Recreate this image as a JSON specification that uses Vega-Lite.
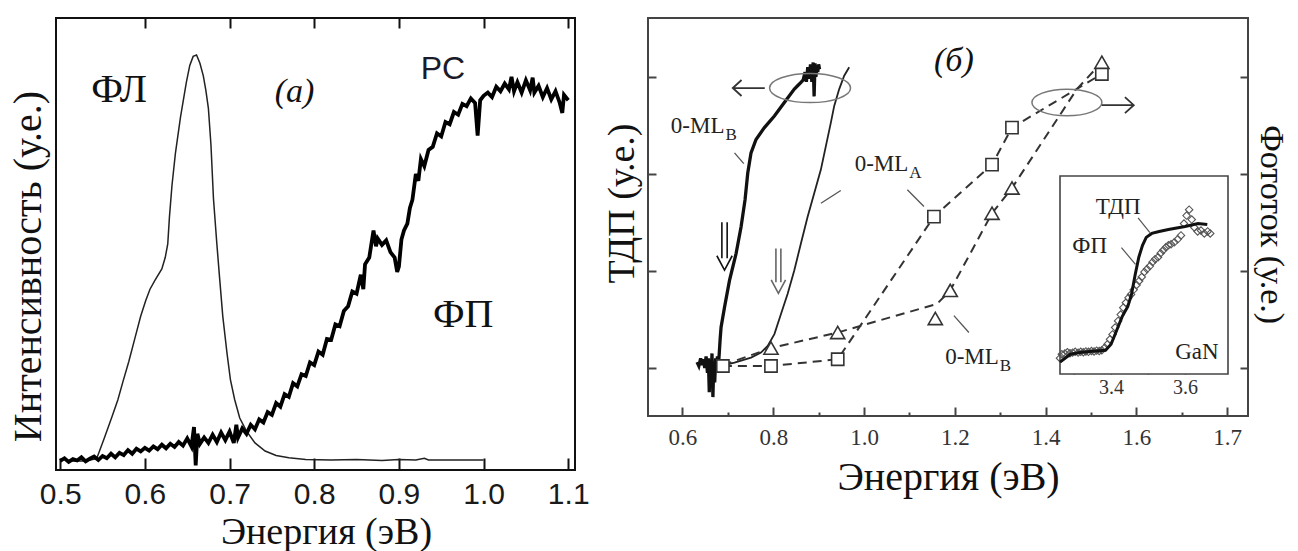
{
  "$schema": "https://vega.github.io/schema/vega-lite/v6.json",
  "background": "white",
  "padding": {"left": 7, "top": 16, "right": 0, "bottom": 0},
  "spacing": 11,
  "config": {
    "view": {"stroke": null},
    "axis": {"grid": false, "domain": false, "titleFont": "Liberation Serif", "titleFontWeight": "normal", "titleColor": "#111", "labelColor": "#222", "tickColor": "#222", "labelOverlap": false, "labelFlush": false}
  },
  "datasets": {
    "fl": [
      {"e": 0.51, "v": 0.02}, {"e": 0.53, "v": 0.02}, {"e": 0.543, "v": 0.025}, {"e": 0.552, "v": 0.07}, {"e": 0.561, "v": 0.117}, {"e": 0.568, "v": 0.155}, {"e": 0.574, "v": 0.195}, {"e": 0.581, "v": 0.24}, {"e": 0.588, "v": 0.29}, {"e": 0.595, "v": 0.34}, {"e": 0.601, "v": 0.375}, {"e": 0.606, "v": 0.4}, {"e": 0.612, "v": 0.42}, {"e": 0.62, "v": 0.445}, {"e": 0.624, "v": 0.47}, {"e": 0.627, "v": 0.5}, {"e": 0.629, "v": 0.56}, {"e": 0.632, "v": 0.63}, {"e": 0.636, "v": 0.7}, {"e": 0.642, "v": 0.78}, {"e": 0.649, "v": 0.858}, {"e": 0.653, "v": 0.895}, {"e": 0.657, "v": 0.915}, {"e": 0.661, "v": 0.918}, {"e": 0.665, "v": 0.9}, {"e": 0.669, "v": 0.872}, {"e": 0.672, "v": 0.84}, {"e": 0.675, "v": 0.8}, {"e": 0.678, "v": 0.72}, {"e": 0.681, "v": 0.6}, {"e": 0.685, "v": 0.5}, {"e": 0.688, "v": 0.43}, {"e": 0.692, "v": 0.34}, {"e": 0.697, "v": 0.258}, {"e": 0.701, "v": 0.2}, {"e": 0.706, "v": 0.156}, {"e": 0.712, "v": 0.115}, {"e": 0.72, "v": 0.086}, {"e": 0.73, "v": 0.06}, {"e": 0.742, "v": 0.042}, {"e": 0.755, "v": 0.032}, {"e": 0.77, "v": 0.027}, {"e": 0.79, "v": 0.023}, {"e": 0.82, "v": 0.022}, {"e": 0.85, "v": 0.023}, {"e": 0.88, "v": 0.021}, {"e": 0.9, "v": 0.023}, {"e": 0.92, "v": 0.022}, {"e": 0.93, "v": 0.026}, {"e": 0.935, "v": 0.022}, {"e": 0.96, "v": 0.022}, {"e": 1.0, "v": 0.022}
    ],
    "fp": [
      {"e": 0.5, "v": 0.02}, {"e": 0.505, "v": 0.026}, {"e": 0.51, "v": 0.018}, {"e": 0.515, "v": 0.024}, {"e": 0.52, "v": 0.021}, {"e": 0.525, "v": 0.028}, {"e": 0.53, "v": 0.019}, {"e": 0.535, "v": 0.025}, {"e": 0.54, "v": 0.03}, {"e": 0.545, "v": 0.022}, {"e": 0.55, "v": 0.031}, {"e": 0.555, "v": 0.026}, {"e": 0.56, "v": 0.036}, {"e": 0.565, "v": 0.028}, {"e": 0.57, "v": 0.038}, {"e": 0.575, "v": 0.033}, {"e": 0.58, "v": 0.044}, {"e": 0.585, "v": 0.036}, {"e": 0.59, "v": 0.047}, {"e": 0.595, "v": 0.041}, {"e": 0.6, "v": 0.049}, {"e": 0.605, "v": 0.043}, {"e": 0.61, "v": 0.052}, {"e": 0.615, "v": 0.046}, {"e": 0.62, "v": 0.056}, {"e": 0.625, "v": 0.048}, {"e": 0.63, "v": 0.058}, {"e": 0.635, "v": 0.051}, {"e": 0.64, "v": 0.062}, {"e": 0.645, "v": 0.054}, {"e": 0.65, "v": 0.07}, {"e": 0.655, "v": 0.052}, {"e": 0.658, "v": 0.095}, {"e": 0.66, "v": 0.01}, {"e": 0.662, "v": 0.08}, {"e": 0.665, "v": 0.058}, {"e": 0.67, "v": 0.072}, {"e": 0.675, "v": 0.06}, {"e": 0.68, "v": 0.078}, {"e": 0.685, "v": 0.062}, {"e": 0.69, "v": 0.083}, {"e": 0.695, "v": 0.066}, {"e": 0.7, "v": 0.085}, {"e": 0.705, "v": 0.06}, {"e": 0.708, "v": 0.1}, {"e": 0.71, "v": 0.072}, {"e": 0.715, "v": 0.092}, {"e": 0.72, "v": 0.08}, {"e": 0.725, "v": 0.1}, {"e": 0.73, "v": 0.09}, {"e": 0.735, "v": 0.112}, {"e": 0.74, "v": 0.105}, {"e": 0.745, "v": 0.128}, {"e": 0.75, "v": 0.122}, {"e": 0.755, "v": 0.148}, {"e": 0.76, "v": 0.14}, {"e": 0.765, "v": 0.168}, {"e": 0.77, "v": 0.162}, {"e": 0.775, "v": 0.192}, {"e": 0.78, "v": 0.185}, {"e": 0.785, "v": 0.212}, {"e": 0.79, "v": 0.208}, {"e": 0.795, "v": 0.238}, {"e": 0.8, "v": 0.232}, {"e": 0.805, "v": 0.262}, {"e": 0.81, "v": 0.255}, {"e": 0.815, "v": 0.29}, {"e": 0.82, "v": 0.288}, {"e": 0.825, "v": 0.322}, {"e": 0.83, "v": 0.318}, {"e": 0.835, "v": 0.352}, {"e": 0.84, "v": 0.362}, {"e": 0.845, "v": 0.395}, {"e": 0.85, "v": 0.39}, {"e": 0.855, "v": 0.432}, {"e": 0.858, "v": 0.4}, {"e": 0.86, "v": 0.455}, {"e": 0.865, "v": 0.47}, {"e": 0.87, "v": 0.53}, {"e": 0.873, "v": 0.495}, {"e": 0.875, "v": 0.512}, {"e": 0.88, "v": 0.498}, {"e": 0.885, "v": 0.508}, {"e": 0.89, "v": 0.482}, {"e": 0.895, "v": 0.47}, {"e": 0.898, "v": 0.438}, {"e": 0.9, "v": 0.45}, {"e": 0.903, "v": 0.51}, {"e": 0.906, "v": 0.53}, {"e": 0.91, "v": 0.545}, {"e": 0.913, "v": 0.58}, {"e": 0.916, "v": 0.598}, {"e": 0.92, "v": 0.655}, {"e": 0.923, "v": 0.64}, {"e": 0.926, "v": 0.688}, {"e": 0.93, "v": 0.672}, {"e": 0.935, "v": 0.708}, {"e": 0.94, "v": 0.715}, {"e": 0.945, "v": 0.745}, {"e": 0.95, "v": 0.738}, {"e": 0.955, "v": 0.77}, {"e": 0.96, "v": 0.765}, {"e": 0.965, "v": 0.792}, {"e": 0.97, "v": 0.786}, {"e": 0.975, "v": 0.81}, {"e": 0.98, "v": 0.805}, {"e": 0.985, "v": 0.822}, {"e": 0.99, "v": 0.812}, {"e": 0.993, "v": 0.74}, {"e": 0.996, "v": 0.818}, {"e": 1.0, "v": 0.828}, {"e": 1.005, "v": 0.835}, {"e": 1.01, "v": 0.825}, {"e": 1.015, "v": 0.848}, {"e": 1.02, "v": 0.838}, {"e": 1.025, "v": 0.855}, {"e": 1.03, "v": 0.842}, {"e": 1.033, "v": 0.87}, {"e": 1.036, "v": 0.838}, {"e": 1.04, "v": 0.858}, {"e": 1.045, "v": 0.835}, {"e": 1.05, "v": 0.862}, {"e": 1.055, "v": 0.84}, {"e": 1.058, "v": 0.868}, {"e": 1.06, "v": 0.835}, {"e": 1.065, "v": 0.85}, {"e": 1.07, "v": 0.825}, {"e": 1.075, "v": 0.845}, {"e": 1.08, "v": 0.82}, {"e": 1.085, "v": 0.838}, {"e": 1.09, "v": 0.812}, {"e": 1.093, "v": 0.79}, {"e": 1.095, "v": 0.83}, {"e": 1.1, "v": 0.818}
    ],
    "mlb": [
      {"e": 0.632, "v": 0.06}, {"e": 0.636, "v": 0.02}, {"e": 0.64, "v": 0.1}, {"e": 0.643, "v": 0.03}, {"e": 0.646, "v": 0.09}, {"e": 0.649, "v": 0.0}, {"e": 0.652, "v": 0.12}, {"e": 0.655, "v": -0.05}, {"e": 0.657, "v": 0.1}, {"e": 0.659, "v": -0.25}, {"e": 0.661, "v": 0.08}, {"e": 0.663, "v": -0.1}, {"e": 0.665, "v": 0.15}, {"e": 0.667, "v": -0.3}, {"e": 0.669, "v": 0.06}, {"e": 0.671, "v": -0.15}, {"e": 0.673, "v": 0.1}, {"e": 0.675, "v": -0.05}, {"e": 0.677, "v": 0.12}, {"e": 0.679, "v": 0.02}, {"e": 0.681, "v": 0.15}, {"e": 0.683, "v": 0.3}, {"e": 0.685, "v": 0.42}, {"e": 0.6926, "v": 0.626}, {"e": 0.7036, "v": 0.903}, {"e": 0.7181, "v": 1.18}, {"e": 0.7291, "v": 1.456}, {"e": 0.7378, "v": 1.733}, {"e": 0.7438, "v": 2.01}, {"e": 0.751, "v": 2.218}, {"e": 0.762, "v": 2.356}, {"e": 0.7805, "v": 2.478}, {"e": 0.8025, "v": 2.598}, {"e": 0.8244, "v": 2.737}, {"e": 0.8464, "v": 2.875}, {"e": 0.858, "v": 2.93}, {"e": 0.866, "v": 2.97}, {"e": 0.87, "v": 3.05}, {"e": 0.873, "v": 2.95}, {"e": 0.876, "v": 3.1}, {"e": 0.879, "v": 2.98}, {"e": 0.882, "v": 3.13}, {"e": 0.885, "v": 2.95}, {"e": 0.888, "v": 3.15}, {"e": 0.89, "v": 2.8}, {"e": 0.892, "v": 3.14}, {"e": 0.894, "v": 3.0}, {"e": 0.896, "v": 3.12}, {"e": 0.898, "v": 3.05}, {"e": 0.9, "v": 3.13}, {"e": 0.902, "v": 3.08}
    ],
    "mla": [
      {"e": 0.685, "v": 0.021}, {"e": 0.7145, "v": 0.055}, {"e": 0.751, "v": 0.107}, {"e": 0.773, "v": 0.159}, {"e": 0.7877, "v": 0.228}, {"e": 0.8025, "v": 0.349}, {"e": 0.817, "v": 0.557}, {"e": 0.8317, "v": 0.765}, {"e": 0.8464, "v": 1.007}, {"e": 0.8609, "v": 1.284}, {"e": 0.8757, "v": 1.56}, {"e": 0.8904, "v": 1.803}, {"e": 0.9049, "v": 2.045}, {"e": 0.9159, "v": 2.287}, {"e": 0.9269, "v": 2.53}, {"e": 0.9343, "v": 2.702}, {"e": 0.9453, "v": 2.875}, {"e": 0.9563, "v": 3.013}, {"e": 0.9673, "v": 3.1}
    ],
    "sq": [
      {"e": 0.689, "v": 0.02}, {"e": 0.795, "v": 0.02}, {"e": 0.942, "v": 0.09}, {"e": 1.154, "v": 1.56}, {"e": 1.282, "v": 2.097}, {"e": 1.326, "v": 2.478}, {"e": 1.524, "v": 3.031}
    ],
    "tr": [
      {"e": 0.795, "v": 0.205}, {"e": 0.942, "v": 0.366}, {"e": 1.157, "v": 0.51}, {"e": 1.19, "v": 0.8}, {"e": 1.282, "v": 1.595}, {"e": 1.326, "v": 1.855}, {"e": 1.524, "v": 3.152}
    ],
    "trline": [
      {"e": 0.689, "v": 0.03}, {"e": 0.795, "v": 0.205}, {"e": 0.942, "v": 0.366}, {"e": 1.161, "v": 0.661}, {"e": 1.19, "v": 0.8}, {"e": 1.282, "v": 1.595}, {"e": 1.326, "v": 1.855}, {"e": 1.469, "v": 2.875}, {"e": 1.524, "v": 3.152}
    ],
    "tdp": [
      {"e": 3.262, "v": 0.06}, {"e": 3.29, "v": 0.1}, {"e": 3.32, "v": 0.11}, {"e": 3.35, "v": 0.115}, {"e": 3.385, "v": 0.12}, {"e": 3.4, "v": 0.15}, {"e": 3.415, "v": 0.22}, {"e": 3.43, "v": 0.29}, {"e": 3.445, "v": 0.34}, {"e": 3.455, "v": 0.4}, {"e": 3.465, "v": 0.5}, {"e": 3.475, "v": 0.59}, {"e": 3.485, "v": 0.65}, {"e": 3.495, "v": 0.69}, {"e": 3.51, "v": 0.71}, {"e": 3.53, "v": 0.72}, {"e": 3.555, "v": 0.73}, {"e": 3.6, "v": 0.745}, {"e": 3.635, "v": 0.76}, {"e": 3.66, "v": 0.755}
    ],
    "fpi": [
      {"e": 3.262, "v": 0.08}, {"e": 3.267, "v": 0.1}, {"e": 3.275, "v": 0.103}, {"e": 3.282, "v": 0.11}, {"e": 3.289, "v": 0.105}, {"e": 3.296, "v": 0.108}, {"e": 3.303, "v": 0.112}, {"e": 3.311, "v": 0.108}, {"e": 3.318, "v": 0.112}, {"e": 3.325, "v": 0.11}, {"e": 3.332, "v": 0.114}, {"e": 3.339, "v": 0.112}, {"e": 3.347, "v": 0.116}, {"e": 3.354, "v": 0.114}, {"e": 3.361, "v": 0.118}, {"e": 3.368, "v": 0.116}, {"e": 3.375, "v": 0.12}, {"e": 3.383, "v": 0.133}, {"e": 3.39, "v": 0.15}, {"e": 3.397, "v": 0.175}, {"e": 3.404, "v": 0.2}, {"e": 3.411, "v": 0.235}, {"e": 3.419, "v": 0.268}, {"e": 3.426, "v": 0.3}, {"e": 3.433, "v": 0.335}, {"e": 3.44, "v": 0.36}, {"e": 3.447, "v": 0.385}, {"e": 3.454, "v": 0.402}, {"e": 3.461, "v": 0.425}, {"e": 3.469, "v": 0.45}, {"e": 3.476, "v": 0.47}, {"e": 3.483, "v": 0.49}, {"e": 3.49, "v": 0.515}, {"e": 3.497, "v": 0.53}, {"e": 3.505, "v": 0.545}, {"e": 3.512, "v": 0.565}, {"e": 3.519, "v": 0.58}, {"e": 3.527, "v": 0.59}, {"e": 3.534, "v": 0.61}, {"e": 3.541, "v": 0.625}, {"e": 3.548, "v": 0.64}, {"e": 3.555, "v": 0.65}, {"e": 3.562, "v": 0.655}, {"e": 3.571, "v": 0.665}, {"e": 3.58, "v": 0.68}, {"e": 3.589, "v": 0.7}, {"e": 3.597, "v": 0.76}, {"e": 3.604, "v": 0.8}, {"e": 3.611, "v": 0.83}, {"e": 3.618, "v": 0.78}, {"e": 3.625, "v": 0.74}, {"e": 3.634, "v": 0.72}, {"e": 3.643, "v": 0.725}, {"e": 3.652, "v": 0.71}, {"e": 3.661, "v": 0.72}, {"e": 3.668, "v": 0.71}
    ]
  },
  "hconcat": [
    {
      "width": 519,
      "height": 452,
      "view": {"stroke": "#111", "strokeWidth": 2},
      "resolve": {"axis": {"x": "independent", "y": "independent"}},
      "layer": [
        {
          "data": {"name": "fl"},
          "mark": {"type": "line", "stroke": "#222", "strokeWidth": 1.5},
          "encoding": {
            "x": {"field": "e", "type": "quantitative", "scale": {"domain": [0.495, 1.108], "nice": false, "zero": false},
              "axis": {"orient": "bottom", "values": [0.5, 0.6, 0.7, 0.8, 0.9, 1.0, 1.1], "format": ".1f", "offset": -12, "tickSize": 12, "tickWidth": 2, "tickColor": "#111", "labelFont": "Liberation Sans", "labelFontSize": 30, "labelColor": "#1a1a1a", "labelPadding": 9, "title": "Энергия (эВ)", "titleFontSize": 38, "titleX": 270, "titleY": 85, "titleBaseline": "alphabetic"}},
            "y": {"field": "v", "type": "quantitative", "scale": {"domain": [0, 1], "nice": false, "zero": false},
              "axis": {"orient": "left", "title": "Интенсивность (у.е.)", "titleFontSize": 40, "titlePadding": 8, "titleY": 248, "labels": false, "ticks": false}}
          }
        },
        {
          "data": {"name": "fp"},
          "mark": {"type": "line", "stroke": "#000", "strokeWidth": 3.8},
          "encoding": {
            "x": {"field": "e", "type": "quantitative", "scale": {"domain": [0.495, 1.108], "nice": false, "zero": false},
              "axis": {"orient": "top", "values": [0.6, 0.7, 0.8, 0.9, 1.0, 1.1], "offset": -10, "tickSize": 10, "tickWidth": 2, "tickColor": "#111", "labels": false, "title": null}},
            "y": {"field": "v", "type": "quantitative", "scale": {"domain": [0, 1], "nice": false, "zero": false}, "axis": null}
          }
        },
        {
          "data": {"values": [{"e": 0.5694, "v": 0.815, "t": "ФЛ"}, {"e": 0.976, "v": 0.316, "t": "ФП"}]},
          "mark": {"type": "text", "font": "Liberation Serif", "fontSize": 40, "align": "center", "baseline": "alphabetic", "color": "#111"},
          "encoding": {
            "x": {"field": "e", "type": "quantitative", "scale": {"domain": [0.495, 1.108], "nice": false, "zero": false}, "axis": null},
            "y": {"field": "v", "type": "quantitative", "scale": {"domain": [0, 1], "nice": false, "zero": false}, "axis": null},
            "text": {"field": "t"}
          }
        },
        {
          "data": {"values": [{"e": 0.7767, "v": 0.815, "t": "(a)"}]},
          "mark": {"type": "text", "font": "Liberation Serif", "fontStyle": "italic", "fontSize": 34, "align": "center", "baseline": "alphabetic", "color": "#111"},
          "encoding": {
            "x": {"field": "e", "type": "quantitative", "scale": {"domain": [0.495, 1.108], "nice": false, "zero": false}, "axis": null},
            "y": {"field": "v", "type": "quantitative", "scale": {"domain": [0, 1], "nice": false, "zero": false}, "axis": null},
            "text": {"field": "t"}
          }
        },
        {
          "data": {"values": [{"e": 0.952, "v": 0.866, "t": "PC"}]},
          "mark": {"type": "text", "font": "Liberation Sans", "fontSize": 32, "align": "center", "baseline": "alphabetic", "color": "#1a1a2a"},
          "encoding": {
            "x": {"field": "e", "type": "quantitative", "scale": {"domain": [0.495, 1.108], "nice": false, "zero": false}, "axis": null},
            "y": {"field": "v", "type": "quantitative", "scale": {"domain": [0, 1], "nice": false, "zero": false}, "axis": null},
            "text": {"field": "t"}
          }
        }
      ]
    },
    {
      "width": 600,
      "height": 398,
      "view": {"stroke": "#444", "strokeWidth": 2},
      "resolve": {"scale": {"x": "independent", "y": "independent"}, "axis": {"x": "independent", "y": "independent"}},
      "layer": [
        {
          "resolve": {"axis": {"x": "independent", "y": "independent"}},
          "layer": [
            {
              "data": {"name": "mlb"},
              "mark": {"type": "line", "stroke": "#111", "strokeWidth": 3.3},
              "encoding": {
                "x": {"field": "e", "type": "quantitative", "scale": {"domain": [0.524, 1.846], "nice": false, "zero": false},
                  "axis": {"orient": "bottom", "values": [0.6, 0.8, 1.0, 1.2, 1.4, 1.6, 1.8], "labelExpr": "datum.value > 1.75 ? '1.7' : format(datum.value, '.1f')", "offset": -9, "tickSize": 9, "tickWidth": 2, "tickColor": "#444", "labelFont": "Liberation Serif", "labelFontSize": 23, "labelColor": "#333", "labelPadding": 10, "title": "Энергия (эВ)", "titleFontSize": 40, "titleY": 82, "titleBaseline": "alphabetic"}},
                "y": {"field": "v", "type": "quantitative", "scale": {"domain": [-0.495, 3.608], "nice": false, "zero": false},
                  "axis": {"orient": "left", "values": [0, 1, 2, 3], "offset": -8, "tickSize": 8, "tickWidth": 2, "tickColor": "#444", "labels": false, "title": "ТДП (у.е.)", "titleFontSize": 38, "titlePadding": 6, "titleY": 185}}
              }
            },
            {
              "data": {"name": "mla"},
              "mark": {"type": "line", "stroke": "#222", "strokeWidth": 1.8},
              "encoding": {
                "x": {"field": "e", "type": "quantitative", "scale": {"domain": [0.524, 1.846], "nice": false, "zero": false},
                  "axis": {"orient": "bottom", "values": [0.7, 0.9, 1.1, 1.3, 1.5, 1.7], "offset": -4, "tickSize": 4, "tickWidth": 2, "tickColor": "#444", "labels": false, "title": null}},
                "y": {"field": "v", "type": "quantitative", "scale": {"domain": [-0.495, 3.608], "nice": false, "zero": false},
                  "axis": {"orient": "right", "values": [0, 1, 2, 3], "offset": -8, "tickSize": 8, "tickWidth": 2, "tickColor": "#444", "labels": false, "title": "Фототок (у.е.)", "titleFontSize": 34, "titlePadding": 4, "titleY": 206}}
              }
            },
            {
              "data": {"name": "sq"},
              "mark": {"type": "line", "stroke": "#333", "strokeWidth": 2, "strokeDash": [9, 6]},
              "encoding": {
                "x": {"field": "e", "type": "quantitative", "scale": {"domain": [0.524, 1.846], "nice": false, "zero": false}, "axis": null},
                "y": {"field": "v", "type": "quantitative", "scale": {"domain": [-0.495, 3.608], "nice": false, "zero": false}, "axis": null}
              }
            },
            {
              "data": {"name": "trline"},
              "mark": {"type": "line", "stroke": "#333", "strokeWidth": 2, "strokeDash": [9, 6]},
              "encoding": {
                "x": {"field": "e", "type": "quantitative", "scale": {"domain": [0.524, 1.846], "nice": false, "zero": false}, "axis": null},
                "y": {"field": "v", "type": "quantitative", "scale": {"domain": [-0.495, 3.608], "nice": false, "zero": false}, "axis": null}
              }
            },
            {
              "data": {"name": "sq"},
              "mark": {"type": "point", "shape": "square", "size": 150, "filled": true, "fill": "white", "stroke": "#333", "strokeWidth": 1.6, "opacity": 1},
              "encoding": {
                "x": {"field": "e", "type": "quantitative", "scale": {"domain": [0.524, 1.846], "nice": false, "zero": false}, "axis": null},
                "y": {"field": "v", "type": "quantitative", "scale": {"domain": [-0.495, 3.608], "nice": false, "zero": false}, "axis": null}
              }
            },
            {
              "data": {"name": "tr"},
              "mark": {"type": "point", "shape": "triangle-up", "size": 200, "filled": true, "fill": "white", "stroke": "#333", "strokeWidth": 1.6, "opacity": 1},
              "encoding": {
                "x": {"field": "e", "type": "quantitative", "scale": {"domain": [0.524, 1.846], "nice": false, "zero": false}, "axis": null},
                "y": {"field": "v", "type": "quantitative", "scale": {"domain": [-0.495, 3.608], "nice": false, "zero": false}, "axis": null}
              }
            },
            {
              "data": {"values": [
                {"e": 0.7146, "v": 2.218, "e2": 0.7351, "v2": 2.107},
                {"e": 0.9488, "v": 1.83, "e2": 0.905, "v2": 1.699},
                {"e": 1.0954, "v": 1.837, "e2": 1.132, "v2": 1.664},
                {"e": 1.198, "v": 0.54, "e2": 1.231, "v2": 0.366}
              ]},
              "mark": {"type": "rule", "stroke": "#555", "strokeWidth": 1.3},
              "encoding": {
                "x": {"field": "e", "type": "quantitative", "scale": {"domain": [0.524, 1.846], "nice": false, "zero": false}, "axis": null},
                "y": {"field": "v", "type": "quantitative", "scale": {"domain": [-0.495, 3.608], "nice": false, "zero": false}, "axis": null},
                "x2": {"field": "e2"},
                "y2": {"field": "v2"}
              }
            },
            {
              "data": {"values": [{"e": 0.8811, "v": 2.886}]},
              "mark": {"type": "point", "shape": "M -1 0 A 1 0.36 0 1 1 1 0 A 1 0.36 0 1 1 -1 0 Z", "size": 6561, "filled": false, "stroke": "#777", "strokeWidth": 1.5, "opacity": 1},
              "encoding": {
                "x": {"field": "e", "type": "quantitative", "scale": {"domain": [0.524, 1.846], "nice": false, "zero": false}, "axis": null},
                "y": {"field": "v", "type": "quantitative", "scale": {"domain": [-0.495, 3.608], "nice": false, "zero": false}, "axis": null}
              }
            },
            {
              "data": {"values": [{"e": 1.447, "v": 2.737}]},
              "mark": {"type": "point", "shape": "M -1 0 A 1 0.38 0 1 1 1 0 A 1 0.38 0 1 1 -1 0 Z", "size": 4900, "filled": false, "stroke": "#777", "strokeWidth": 1.5, "opacity": 1},
              "encoding": {
                "x": {"field": "e", "type": "quantitative", "scale": {"domain": [0.524, 1.846], "nice": false, "zero": false}, "axis": null},
                "y": {"field": "v", "type": "quantitative", "scale": {"domain": [-0.495, 3.608], "nice": false, "zero": false}, "axis": null}
              }
            },
            {
              "data": {"values": [{"e": 0.746, "v": 2.886}]},
              "mark": {"type": "point", "shape": "M 1 0 L -1 0 M -0.45 -0.5 L -1 0 L -0.45 0.5", "size": 1024, "filled": false, "stroke": "#333", "strokeWidth": 1.8, "opacity": 1},
              "encoding": {
                "x": {"field": "e", "type": "quantitative", "scale": {"domain": [0.524, 1.846], "nice": false, "zero": false}, "axis": null},
                "y": {"field": "v", "type": "quantitative", "scale": {"domain": [-0.495, 3.608], "nice": false, "zero": false}, "axis": null}
              }
            },
            {
              "data": {"values": [{"e": 1.559, "v": 2.709}]},
              "mark": {"type": "point", "shape": "M -1 0 L 1 0 M 0.45 -0.5 L 1 0 L 0.45 0.5", "size": 1024, "filled": false, "stroke": "#333", "strokeWidth": 1.8, "opacity": 1},
              "encoding": {
                "x": {"field": "e", "type": "quantitative", "scale": {"domain": [0.524, 1.846], "nice": false, "zero": false}, "axis": null},
                "y": {"field": "v", "type": "quantitative", "scale": {"domain": [-0.495, 3.608], "nice": false, "zero": false}, "axis": null}
              }
            },
            {
              "data": {"values": [{"e": 0.6926, "v": 1.256}]},
              "mark": {"type": "point", "shape": "M -0.11 -1 L -0.11 0.5 M 0.11 -1 L 0.11 0.5 M -0.32 0.4 L 0 1 L 0.32 0.4", "size": 2304, "filled": false, "stroke": "#111", "strokeWidth": 1.6, "opacity": 1},
              "encoding": {
                "x": {"field": "e", "type": "quantitative", "scale": {"domain": [0.524, 1.846], "nice": false, "zero": false}, "axis": null},
                "y": {"field": "v", "type": "quantitative", "scale": {"domain": [-0.495, 3.608], "nice": false, "zero": false}, "axis": null}
              }
            },
            {
              "data": {"values": [{"e": 0.8113, "v": 1.001}]},
              "mark": {"type": "point", "shape": "M -0.11 -1 L -0.11 0.5 M 0.11 -1 L 0.11 0.5 M -0.32 0.4 L 0 1 L 0.32 0.4", "size": 2025, "filled": false, "stroke": "#666", "strokeWidth": 1.6, "opacity": 1},
              "encoding": {
                "x": {"field": "e", "type": "quantitative", "scale": {"domain": [0.524, 1.846], "nice": false, "zero": false}, "axis": null},
                "y": {"field": "v", "type": "quantitative", "scale": {"domain": [-0.495, 3.608], "nice": false, "zero": false}, "axis": null}
              }
            },
            {
              "data": {"values": [{"e": 0.6926, "v": 2.426, "t": "0-ML"}, {"e": 1.0976, "v": 2.027, "t": "0-ML"}, {"e": 1.297, "v": 0.038, "t": "0-ML"}]},
              "mark": {"type": "text", "font": "Liberation Serif", "fontSize": 23, "align": "right", "baseline": "alphabetic", "color": "#222"},
              "encoding": {
                "x": {"field": "e", "type": "quantitative", "scale": {"domain": [0.524, 1.846], "nice": false, "zero": false}, "axis": null},
                "y": {"field": "v", "type": "quantitative", "scale": {"domain": [-0.495, 3.608], "nice": false, "zero": false}, "axis": null},
                "text": {"field": "t"}
              }
            },
            {
              "data": {"values": [{"e": 0.6926, "v": 2.426, "t": "B"}, {"e": 1.0976, "v": 2.027, "t": "A"}, {"e": 1.297, "v": 0.038, "t": "B"}]},
              "mark": {"type": "text", "font": "Liberation Serif", "fontSize": 17, "align": "left", "baseline": "alphabetic", "dx": 1, "dy": 7, "color": "#222"},
              "encoding": {
                "x": {"field": "e", "type": "quantitative", "scale": {"domain": [0.524, 1.846], "nice": false, "zero": false}, "axis": null},
                "y": {"field": "v", "type": "quantitative", "scale": {"domain": [-0.495, 3.608], "nice": false, "zero": false}, "axis": null},
                "text": {"field": "t"}
              }
            },
            {
              "data": {"values": [{"e": 1.198, "v": 3.062, "t": "(б)"}]},
              "mark": {"type": "text", "font": "Liberation Serif", "fontStyle": "italic", "fontSize": 34, "align": "center", "baseline": "alphabetic", "color": "#111"},
              "encoding": {
                "x": {"field": "e", "type": "quantitative", "scale": {"domain": [0.524, 1.846], "nice": false, "zero": false}, "axis": null},
                "y": {"field": "v", "type": "quantitative", "scale": {"domain": [-0.495, 3.608], "nice": false, "zero": false}, "axis": null},
                "text": {"field": "t"}
              }
            }
          ]
        },
        {
          "resolve": {"axis": {"x": "independent", "y": "independent"}},
          "layer": [
            {
              "data": {"values": [{"x0": 3.262, "x1": 3.716, "y0": 0, "y1": 1}]},
              "mark": {"type": "rect", "fill": "white", "stroke": "#444", "strokeWidth": 1.6},
              "encoding": {
                "x": {"field": "x0", "type": "quantitative", "scale": {"domain": [3.262, 3.716], "range": [412, 580], "nice": false, "zero": false},
                  "axis": {"orient": "bottom", "values": [3.3, 3.4, 3.5, 3.6], "labelExpr": "round(datum.value * 10) % 2 == 0 ? format(datum.value, '.1f') : ''", "offset": -48, "tickSize": 6, "tickWidth": 1.5, "tickColor": "#444", "labelFont": "Liberation Serif", "labelFontSize": 20, "labelColor": "#333", "labelPadding": 3, "title": null}},
                "x2": {"field": "x1"},
                "y": {"field": "y0", "type": "quantitative", "scale": {"domain": [0, 1], "range": [356, 158], "nice": false, "zero": false}, "axis": null},
                "y2": {"field": "y1"}
              }
            },
            {
              "data": {"name": "fpi"},
              "mark": {"type": "point", "shape": "diamond", "size": 55, "filled": false, "stroke": "#555", "strokeWidth": 1.1, "opacity": 1},
              "encoding": {
                "x": {"field": "e", "type": "quantitative", "scale": {"domain": [3.262, 3.716], "range": [412, 580], "nice": false, "zero": false}, "axis": null},
                "y": {"field": "v", "type": "quantitative", "scale": {"domain": [0, 1], "range": [356, 158], "nice": false, "zero": false}, "axis": null}
              }
            },
            {
              "data": {"name": "tdp"},
              "mark": {"type": "line", "stroke": "#111", "strokeWidth": 3},
              "encoding": {
                "x": {"field": "e", "type": "quantitative", "scale": {"domain": [3.262, 3.716], "range": [412, 580], "nice": false, "zero": false}, "axis": null},
                "y": {"field": "v", "type": "quantitative", "scale": {"domain": [0, 1], "range": [356, 158], "nice": false, "zero": false}, "axis": null}
              }
            },
            {
              "data": {"values": [
                {"e": 3.473, "v": 0.789, "e2": 3.505, "v2": 0.714},
                {"e": 3.428, "v": 0.638, "e2": 3.466, "v2": 0.554}
              ]},
              "mark": {"type": "rule", "stroke": "#555", "strokeWidth": 1.2},
              "encoding": {
                "x": {"field": "e", "type": "quantitative", "scale": {"domain": [3.262, 3.716], "range": [412, 580], "nice": false, "zero": false}, "axis": null},
                "y": {"field": "v", "type": "quantitative", "scale": {"domain": [0, 1], "range": [356, 158], "nice": false, "zero": false}, "axis": null},
                "x2": {"field": "e2"},
                "y2": {"field": "v2"}
              }
            },
            {
              "data": {"values": [{"e": 3.419, "v": 0.808, "t": "ТДП"}, {"e": 3.342, "v": 0.613, "t": "ФП"}, {"e": 3.632, "v": 0.074, "t": "GaN"}]},
              "mark": {"type": "text", "font": "Liberation Serif", "fontSize": 23, "align": "center", "baseline": "alphabetic", "color": "#222"},
              "encoding": {
                "x": {"field": "e", "type": "quantitative", "scale": {"domain": [3.262, 3.716], "range": [412, 580], "nice": false, "zero": false}, "axis": null},
                "y": {"field": "v", "type": "quantitative", "scale": {"domain": [0, 1], "range": [356, 158], "nice": false, "zero": false}, "axis": null},
                "text": {"field": "t"}
              }
            }
          ]
        }
      ]
    }
  ]
}
